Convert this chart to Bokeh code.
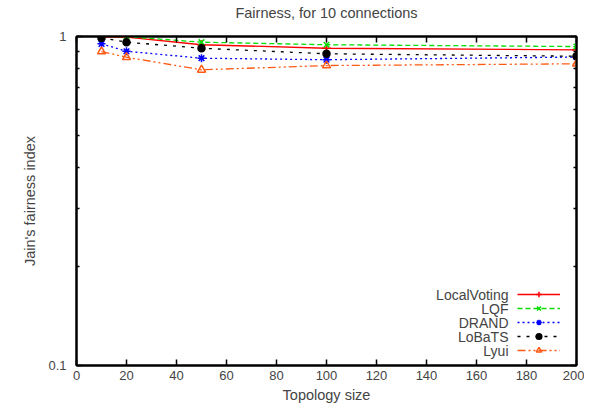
from bokeh.plotting import figure
from bokeh.models import (Range1d, FixedTicker, LinearAxis, LogAxis, Legend,
                          LegendItem, Label)
from bokeh.embed import file_html
from bokeh.resources import INLINE

# ---- data ----
sizes = [10, 20, 50, 100, 200]
local_voting = [0.996, 0.996, 0.944, 0.921, 0.911]
lqf = [0.999, 0.999, 0.961, 0.944, 0.932]
drand = [0.950, 0.902, 0.859, 0.850, 0.866]
lobats = [0.990, 0.961, 0.921, 0.886, 0.871]
lyui = [0.900, 0.865, 0.792, 0.816, 0.826]

title_text = "Fairness, for 10 connections"
series_names = ["LocalVoting", "LQF", "DRAND", "LoBaTS", "Lyui"]
x_ticks = [0, 20, 40, 60, 80, 100, 120, 140, 160, 180, 200]
y_ticks = [0.1, 1]
y_minor = [0.2, 0.3, 0.4, 0.5, 0.6, 0.7, 0.8, 0.9]
y_tick_labels = {0.1: "0.1", 1: "1"}

FONT = "Liberation Sans"
FS = "13px"
FS_LABEL = "14.5px"
FS_LEG = "14px"

p = figure(width=584, height=406, output_backend="svg", toolbar_location=None,
           y_axis_type="log", x_range=Range1d(0, 200), y_range=Range1d(0.1, 1),
           min_border_left=76, min_border_right=8, min_border_top=36,
           min_border_bottom=41)
p.grid.visible = False
p.outline_line_color = "black"
p.outline_line_width = 2
p.background_fill_color = "white"
p.border_fill_color = "white"

def style_axis(ax, show_labels=True):
    ax.axis_line_color = "black"
    ax.axis_line_width = 2
    ax.major_tick_in = 6
    ax.major_tick_out = 0
    ax.minor_tick_in = 3
    ax.minor_tick_out = 0
    ax.major_tick_line_width = 1.5
    ax.minor_tick_line_width = 1.5
    ax.major_label_text_font = FONT
    ax.major_label_text_font_size = FS
    if not show_labels:
        ax.major_label_text_alpha = 0
    ax.axis_label_text_font = FONT
    ax.axis_label_text_font_size = FS_LABEL
    ax.axis_label_text_font_style = "normal"

xt = FixedTicker(ticks=x_ticks, minor_ticks=[])
yt = FixedTicker(ticks=y_ticks, minor_ticks=y_minor)

xa = p.xaxis[0]
xa.ticker = xt
xa.axis_label = "Topology size"
xa.major_label_standoff = 5
xa.axis_label_standoff = 4
style_axis(xa)

ya = p.yaxis[0]
ya.ticker = yt
ya.major_label_overrides = y_tick_labels
ya.axis_label = "Jain's fairness index"
ya.major_label_standoff = 10
ya.axis_label_standoff = 7
style_axis(ya)

# mirror axis on top carries the chart title as its label
top = LinearAxis(ticker=xt, axis_label=title_text)
style_axis(top, show_labels=False)
top.major_label_standoff = 0
top.axis_label_standoff = 16
p.add_layout(top, "above")
right = LogAxis(ticker=yt)
style_axis(right, show_labels=False)
right.major_label_standoff = 0
p.add_layout(right, "right")

styles = [
    dict(y=local_voting, color="#ff0000", dash="solid", marker="cross", size=9, fill=None),
    dict(y=lqf, color="#00dd00", dash="5 3", marker="x", size=8, fill=None),
    dict(y=drand, color="#0000ff", dash="2 3", marker="asterisk", size=8, fill=None),
    dict(y=lobats, color="#000000", dash="3 6", marker="circle", size=7, fill="#000000"),
    dict(y=lyui, color="#ff5a14", dash="8 3 2 3 2 3", marker="triangle", size=8, fill=None),
]

items = []
for name, s in zip(series_names, styles):
    r1 = p.line(sizes, s["y"], line_color=s["color"], line_width=1.3,
                line_dash=s["dash"])
    r2 = p.scatter(sizes, s["y"], marker=s["marker"], size=s["size"],
                   line_color=s["color"], line_width=1.5,
                   fill_color=s["fill"] if s["fill"] else None)
    items.append(LegendItem(label=" ", renderers=[r1, r2]))

leg = Legend(items=items, location=(441, 8), glyph_width=43, glyph_height=14,
             label_height=14, label_width=0, label_standoff=0, spacing=0,
             padding=0, margin=0, border_line_color=None,
             background_fill_alpha=0, label_text_font_size="2px",
             label_text_alpha=0)
p.add_layout(leg)

for i, name in enumerate(series_names):
    lbl = Label(x=432, y=8 + 14 * (len(series_names) - i) - 7,
                x_units="screen", y_units="screen", text=name,
                text_align="right", text_baseline="middle",
                text_font=FONT, text_font_size=FS_LEG)
    p.add_layout(lbl)

open("out.html", "w").write(file_html(p, INLINE))
